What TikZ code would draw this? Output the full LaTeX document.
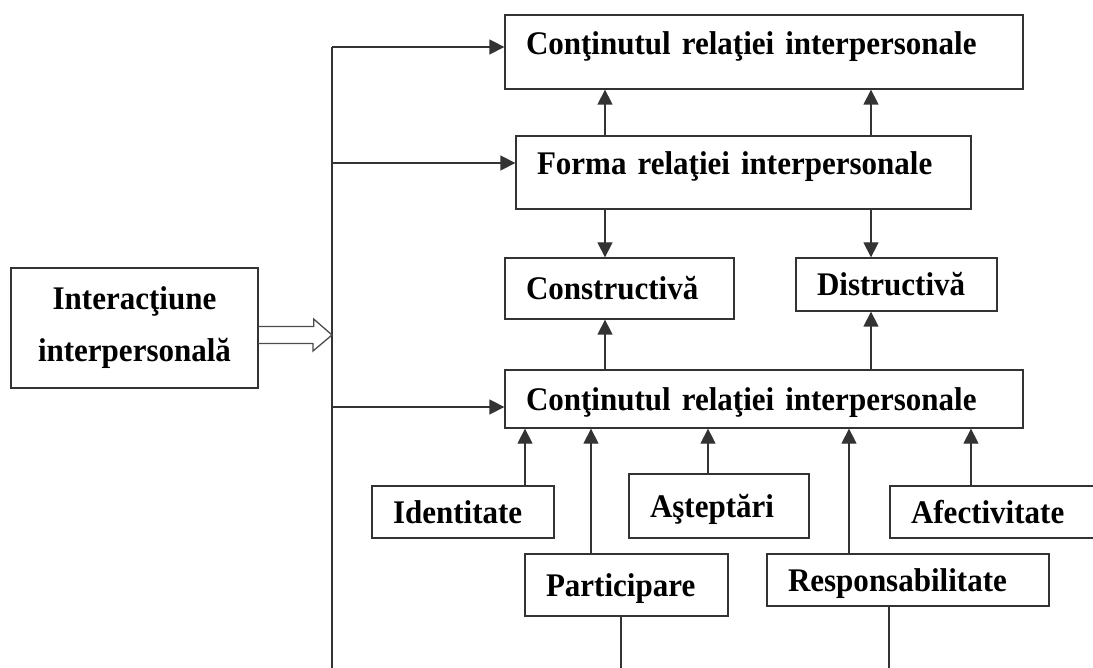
\documentclass[tikz,border=0pt]{standalone}
\usepackage{fontspec}
\setmainfont{Liberation Serif}[FakeStretch=0.94]
\usetikzlibrary{arrows.meta,calc}
\begin{document}
\begin{tikzpicture}[x=1pt,y=-1pt,
  box/.style={draw=black!80, line width=1.3pt, inner xsep=21pt, inner ysep=0pt,
    align=left, text height=22pt, text depth=0pt,
    font=\fontsize{33}{52}\selectfont\bfseries},
  arr/.style={draw=black!80, line width=1.3pt, -{Triangle[length=15pt,width=15pt]}},
  ln/.style={draw=black!80, line width=1.3pt},
  hollow/.style={draw=black!70, line width=1.3pt, line join=miter}
]
\useasboundingbox (0,0) rectangle (1093,668);
\clip (0,0) rectangle (1093,668);

% boxes
\node[box, align=center, inner xsep=0pt, text width=247, minimum height=120,
      text height={}, text depth={}] (inter) at (134.5,328) {Interacţiune\\interpersonală};
\node[box, text width=476, minimum height=74, text height=40pt, text depth=34pt] (c1) at (764,52) {Conţinutul relaţiei interpersonale};
\node[box, text width=413, minimum height=73, text height=39pt, text depth=34pt] (forma) at (743.5,172.5) {Forma relaţiei interpersonale};
\node[box, text width=187, minimum height=61] (constr) at (619.5,288.5) {Constructivă};
\node[box, text width=159, minimum height=53] (distr) at (896.5,284.5) {Distructivă};
\node[box, text width=476, minimum height=58] (c2) at (764,399) {Conţinutul relaţiei interpersonale};
\node[box, text width=140, minimum height=52] (ident) at (463,512) {Identitate};
\node[box, text width=138, minimum height=64] (astept) at (719,506) {Aşteptări};
\node[box, text width=168, minimum height=52] (afect) at (995,512) {Afectivitate};
\node[box, text width=161, minimum height=62] (partic) at (626.5,585) {Participare};
\node[box, text width=240, minimum height=52] (resp) at (908,580) {Responsabilitate};

% columns and rails
\coordinate (vtop) at (332,47);
\coordinate (vf) at (332,163);
\coordinate (vc) at (332,407);
\coordinate (vbot) at (332,668);
\coordinate (xA) at (605,0);
\coordinate (xB) at (871,0);
\coordinate (xI) at (525,0);
\coordinate (xP) at (591,0);
\coordinate (xS) at (708,0);
\coordinate (xR) at (849,0);
\coordinate (xF) at (971,0);
\coordinate (pbot) at (621,668);
\coordinate (rbot) at (889,668);
\coordinate (ht) at (332,335);
\coordinate (hs) at (inter.east |- ht);

% main vertical rail and its branches
\draw[ln] (vtop) -- (vbot);
\draw[arr] (vtop) -- (vtop -| c1.west);
\draw[arr] (vf) -- (vf -| forma.west);
\draw[arr] (vc) -- (vc -| c2.west);

% hollow arrow from the interaction box
\draw[hollow] ($(hs)+(0,-8.5)$) -- ++(55,0) -- ++(0,-7.5) -- (ht)
  -- ++(-19,16) -- ++(0,-7.5) -- ++(-55,0);

% form and content links
\draw[arr] (forma.north -| xA) -- (c1.south -| xA);
\draw[arr] (forma.north -| xB) -- (c1.south -| xB);
\draw[arr] (forma.south -| xA) -- (constr.north -| xA);
\draw[arr] (forma.south -| xB) -- (distr.north -| xB);
\draw[arr] (c2.north -| xA) -- (constr.south -| xA);
\draw[arr] (c2.north -| xB) -- (distr.south -| xB);

% components feeding the content
\draw[arr] (ident.north -| xI) -- (c2.south -| xI);
\draw[arr] (partic.north -| xP) -- (c2.south -| xP);
\draw[arr] (astept.north -| xS) -- (c2.south -| xS);
\draw[arr] (resp.north -| xR) -- (c2.south -| xR);
\draw[arr] (afect.north -| xF) -- (c2.south -| xF);

% lines running off the bottom
\draw[ln] (partic.south -| pbot) -- (pbot);
\draw[ln] (resp.south -| rbot) -- (rbot);
\end{tikzpicture}
\end{document}
